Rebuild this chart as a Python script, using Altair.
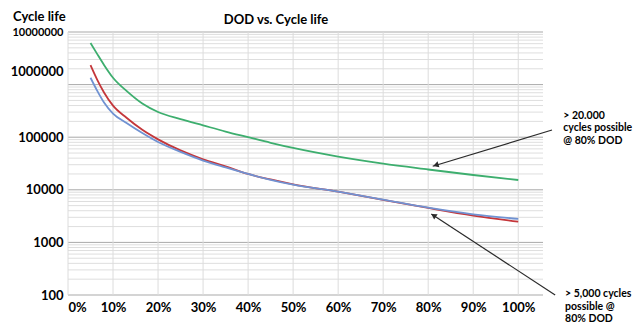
import altair as alt
import pandas as pd

# ---- data ----
dod = [5, 6.5, 8, 10, 13, 16.5, 20, 25, 30, 35, 40, 45, 50, 60, 70, 80, 90, 100]
green = [6200000, 3800000, 2370000, 1350000, 759000, 437000, 302000, 221000, 168000,
         128000, 100000, 78200, 62400, 42700, 31300, 24300, 19100, 15350]
red = [2340000, 1230000, 708000, 398000, 234000, 138000, 91000, 56000, 38000,
       28000, 20000, 15700, 12700, 9230, 6460, 4520, 3240, 2480]
blue = [1350000, 760000, 457000, 282000, 186000, 120000, 81000, 52500, 36000,
        26600, 20000, 15500, 12500, 9230, 6500, 4570, 3420, 2790]

x_ticks = [0, 10, 20, 30, 40, 50, 60, 70, 80, 90, 100]
y_ticks = [100, 1000, 10000, 100000, 1000000, 10000000]
y_minor = [m * 10 ** k for k in range(2, 7) for m in range(2, 10)]

# annotations (data coordinates)
arrow_x = [107.5, 108.2]
arrow_x2 = [81.0, 80.7]
arrow_v = [137000, 100]
arrow_v2 = [28000, 3470]
head_x = [81.7, 81.2]
head_v = [29500, 3250]
head_ang = [253, 303]
note_x = [110.0, 110.4]
note_v = [315000, 130]
note_text = ["> 20.000\ncycles possible\n@ 80% DOD", "> 5,000 cycles\npossible @\n80% DOD"]

FONT = "Lato"

# ---- build tables ----
series = pd.DataFrame({
    "dod": dod * 3,
    "v": green + red + blue,
    "s": ["green"] * len(dod) + ["red"] * len(dod) + ["blue"] * len(dod),
})

xs = alt.Scale(domain=[0, 105.5], nice=False, zero=False)
ys = alt.Scale(type="log", domain=[100, 10000000], nice=False)

xaxis = alt.Axis(values=x_ticks, labelExpr="datum.value + '%'", grid=False, ticks=False,
                 domain=False, labelFont=FONT, labelFontSize=13, labelFontWeight="bold",
                 labelColor="black", labelPadding=6, labelOverlap=False, title=None)
yaxis = alt.Axis(values=y_ticks, format="d", grid=False, ticks=False, domain=False,
                 labelFont=FONT, labelFontWeight="bold", labelColor="black",
                 labelFontSize={"condition": {"test": "datum.value >= 10000000", "value": 11}, "value": 13},
                 labelOffset={"condition": {"test": "datum.value == 1000000", "value": -13}, "value": 0},
                 labelPadding=5, labelOverlap=False, title=None)


def X(f="dod"):
    return alt.X(f"{f}:Q", scale=xs, axis=xaxis)


def Y(f="v"):
    return alt.Y(f"{f}:Q", scale=ys, axis=yaxis)


minor = alt.Chart(pd.DataFrame({"v": y_minor})).mark_rule(color="#dedede", strokeWidth=1).encode(y=Y())
major = alt.Chart(pd.DataFrame({"v": y_ticks})).mark_rule(color="#a9a9a9", strokeWidth=1).encode(y=Y())
vgrid = alt.Chart(pd.DataFrame({"dod": x_ticks})).mark_rule(color="#dcdcdc", strokeWidth=1).encode(x=X())

lines = alt.Chart(series).mark_line(interpolate="monotone", strokeWidth=1.8).encode(
    x=X(), y=Y(),
    color=alt.Color("s:N", scale=alt.Scale(domain=["green", "red", "blue"],
                                           range=["#3dae6e", "#c4363a", "#7092d2"]), legend=None),
    detail="s:N",
)

arrows = alt.Chart(pd.DataFrame({"dod": arrow_x, "dod2": arrow_x2, "v": arrow_v, "v2": arrow_v2})).mark_rule(
    color="#2a2a2a", strokeWidth=1.2).encode(x=X(), x2="dod2:Q", y=Y(), y2="v2:Q")

heads = alt.Chart(pd.DataFrame({"dod": head_x, "v": head_v, "ang": head_ang})).mark_point(
    shape="triangle-up", filled=True, size=40, color="#2a2a2a", opacity=1).encode(
    x=X(), y=Y(), angle=alt.Angle("ang:Q", scale=None))

notes = alt.Chart(pd.DataFrame({"dod": note_x, "v": note_v, "t": note_text})).mark_text(
    align="left", baseline="top", lineBreak="\n", lineHeight=12.5, font=FONT, fontSize=10.5,
    fontWeight="bold", color="black").encode(x=X(), y=Y(), text="t:N")

ylab = alt.Chart(pd.DataFrame({"t": ["Cycle life"]})).mark_text(
    align="left", baseline="middle", font=FONT, fontSize=13, fontWeight="bold", color="black").encode(
    x=alt.value(-55), y=alt.value(-15), text="t:N")

title = alt.Chart(pd.DataFrame({"t": ["DOD vs. Cycle life"]})).mark_text(
    align="center", baseline="middle", font=FONT, fontSize=13, fontWeight="bold", color="black").encode(
    x=alt.value(208), y=alt.value(-12), text="t:N")

chart = alt.layer(minor, major, vgrid, lines, arrows, heads, notes, ylab, title).properties(
    width=475, height=263,
    autosize=alt.AutoSizeParams(type="none"),
    padding={"left": 60, "top": 24, "right": 92, "bottom": 30},
    background="white",
).configure_view(stroke=None)

chart.save("out.html", embed_options={"renderer": "svg", "actions": False})
